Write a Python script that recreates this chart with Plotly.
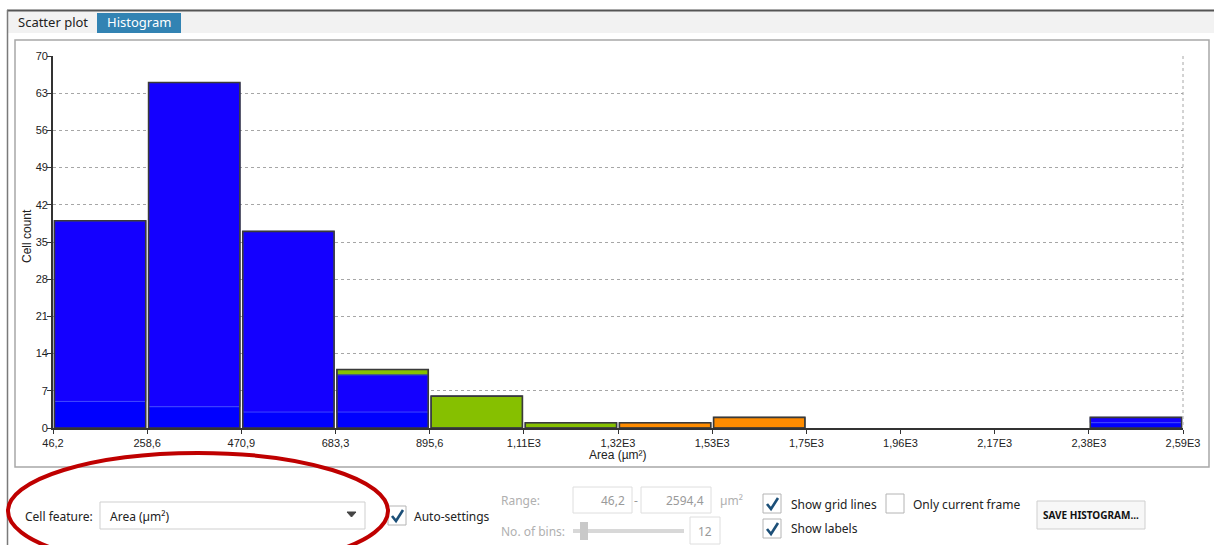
import plotly.graph_objects as go

# ---- histogram data: Area (µm²), 12 bins from 46.2 to 2594.4 ----
bin_edges = [46.2, 258.55, 470.9, 683.25, 895.6, 1107.95, 1320.3,
             1532.65, 1745.0, 1957.35, 2169.7, 2382.05, 2594.4]
edge_labels = ["46,2", "258,6", "470,9", "683,3", "895,6", "1,11E3", "1,32E3",
               "1,53E3", "1,75E3", "1,96E3", "2,17E3", "2,38E3", "2,59E3"]

# cell counts per bin, one list per stacked group
blue_lower = [5, 4, 3, 3, 0, 0, 0, 0, 0, 0, 0, 1]
blue_upper = [34, 61, 34, 7, 0, 0, 0, 0, 0, 0, 0, 1]
green_counts = [0, 0, 0, 1, 6, 1, 0, 0, 0, 0, 0, 0]
orange_counts = [0, 0, 0, 0, 0, 0, 1, 2, 0, 0, 0, 0]

y_ticks = [0, 7, 14, 21, 28, 35, 42, 49, 56, 63, 70]

# ---- geometry ----
W, H = 1214, 545
PL, PR, PT, PB = 53, 1183, 56, 428     # plot area in pixels


def fx(px):
    return (px - PL) / (PR - PL)


def fy(py):
    return (PB - py) / (PB - PT)


centers = [(a + b) / 2 for a, b in zip(bin_edges[:-1], bin_edges[1:])]
widths = [(b - a) * 0.97 for a, b in zip(bin_edges[:-1], bin_edges[1:])]

base_upper = blue_lower
base_green = [a + b for a, b in zip(blue_lower, blue_upper)]
base_orange = [a + b for a, b in zip(base_green, green_counts)]
totals = [a + b for a, b in zip(base_orange, orange_counts)]

fig = go.Figure()


def add_segment(values, base, fill, edge, edge_w):
    keep = [i for i, v in enumerate(values) if v > 0]
    fig.add_trace(go.Bar(
        x=[centers[i] for i in keep], y=[values[i] for i in keep],
        base=[base[i] for i in keep], width=[widths[i] for i in keep],
        marker=dict(color=fill, line=dict(color=edge, width=edge_w)),
        hoverinfo="skip",
    ))


add_segment(blue_lower, [0] * 12, "#0000ff", "#0000ff", 0)
add_segment(blue_upper, base_upper, "#1400ff", "#3c46ff", 1)
add_segment(green_counts, base_green, "#86c000", "#2a3a9a", 1)
add_segment(orange_counts, base_orange, "#ff8c00", "#3a3a3a", 1)

# dark outline around each whole (non-empty) bar
nz = [i for i, t in enumerate(totals) if t > 0]
fig.add_trace(go.Bar(
    x=[centers[i] for i in nz], y=[totals[i] for i in nz],
    base=[0] * len(nz), width=[widths[i] for i in nz],
    marker=dict(color="rgba(0,0,0,0)", line=dict(color="#3a3a3a", width=1.6)),
    hoverinfo="skip",
))

tick_font = dict(family="Liberation Sans, Arial, sans-serif", size=11, color="#222222")
ui_font = "Noto Sans, Open Sans, sans-serif"

fig.update_layout(
    width=W, height=H,
    margin=dict(l=PL, r=W - PR, t=PT, b=H - PB),
    paper_bgcolor="white", plot_bgcolor="white",
    barmode="overlay", showlegend=False,
    xaxis=dict(
        range=[bin_edges[0], bin_edges[-1]],
        tickvals=bin_edges, ticktext=edge_labels,
        ticks="outside", ticklen=4, tickcolor="#333", tickwidth=1.2,
        showline=True, linecolor="#333", linewidth=1.8,
        showgrid=False, zeroline=False, tickfont=tick_font,
    ),
    yaxis=dict(
        range=[0, 70], tickvals=y_ticks, ticktext=[str(v) for v in y_ticks],
        ticks="outside", ticklen=4, tickcolor="#333", tickwidth=1.2,
        ticklabelstandoff=-3,
        showline=True, linecolor="#333", linewidth=1.8,
        showgrid=True, gridcolor="#a6a6a6", griddash="dot", gridwidth=1,
        zeroline=False, tickfont=tick_font,
    ),
)

shapes = []
annotations = []


def rect(x0, y0, x1, y1, line="#c8c8c8", fill=None, lw=1, layer="above"):
    shapes.append(dict(
        type="rect", xref="paper", yref="paper",
        x0=fx(x0), x1=fx(x1), y0=fy(y1), y1=fy(y0),
        line=dict(color=line, width=lw), fillcolor=fill, layer=layer,
    ))


def line(x0, y0, x1, y1, color, lw=1, dash=None):
    shapes.append(dict(
        type="line", xref="paper", yref="paper",
        x0=fx(x0), x1=fx(x1), y0=fy(y0), y1=fy(y1),
        line=dict(color=color, width=lw, dash=dash),
    ))


def path(points, color, lw=1, fill=None, close=False):
    d = "M " + " L ".join(f"{fx(x):.5f},{fy(y):.5f}" for x, y in points)
    if close:
        d += " Z"
    shapes.append(dict(
        type="path", xref="paper", yref="paper", path=d,
        line=dict(color=color, width=lw), fillcolor=fill,
    ))


def text(x, y, s, size=12, color="#222222", anchor="left", family=ui_font, angle=0):
    annotations.append(dict(
        x=fx(x), y=fy(y), xref="paper", yref="paper", text=s,
        showarrow=False, xanchor=anchor, yanchor="middle", textangle=angle,
        font=dict(family=family, size=size, color=color),
    ))


def checkbox(x, y, checked):
    rect(x, y, x + 18, y + 19, line="#b4b4b4", fill="white")
    if checked:
        path([(x + 4, y + 10), (x + 8, y + 15), (x + 15, y + 4)], "#1c4f78", lw=2.6)


# window frame and tab strip
rect(8, 11, W + 2, 33, line="#f2f2f2", fill="#f2f2f2", lw=0, layer="below")
rect(97, 13, 181, 33, line="#3283b3", fill="#3283b3", lw=0)
line(7, 10.5, W, 10.5, "#555555", 2)
line(7.5, 10, 7.5, H, "#7a7a7a", 1.5)
text(53, 22.5, "Scatter plot", size=13, anchor="center")
text(139, 22.5, "Histogram", size=13, color="white", anchor="center")

# chart panel border
rect(15, 40, 1209, 467, line="#a8a8a8", lw=1.5, layer="below")

# right edge of the plot area (dotted, like the grid)
line(PR, PT, PR, PB, "#a6a6a6", 1, "dot")

# axis titles
text(27, 236, "Cell count", size=12, anchor="center",
     family="Liberation Sans, Arial, sans-serif", angle=-90)
text(618, 455, "Area (µm²)", size=12, anchor="center",
     family="Liberation Sans, Arial, sans-serif")

# controls below the chart
text(23, 516, "Cell feature:", size=12)
rect(100, 502, 365, 529, line="#cfcfcf", fill="white")
text(108, 516, "Area (µm²)", size=12)
path([(347, 512), (356, 512), (351.5, 517)], "#444444", lw=1, fill="#444444", close=True)

checkbox(388, 506, True)
text(412, 516, "Auto-settings", size=12)

text(499, 500, "Range:", size=12, color="#b0b0b0")
rect(573, 487, 632, 513, line="#dedede", fill="white")
text(627, 500, "46,2", size=12, color="#9a9a9a", anchor="right")
text(636.5, 500, "-", size=12, color="#9a9a9a", anchor="center")
rect(641, 487, 711, 513, line="#dedede", fill="white")
text(706, 500, "2594,4", size=12, color="#9a9a9a", anchor="right")
text(718, 500, "µm²", size=12, color="#b0b0b0")

text(499, 531, "No. of bins:", size=12, color="#b0b0b0")
rect(573, 529, 684, 533, line="#d8d8d8", fill="#d8d8d8", lw=0)
rect(580, 522, 588, 540, line="#c4c4c4", fill="#c9c9c9", lw=0)
rect(690, 517, 720, 544, line="#dedede", fill="white")
text(705, 531, "12", size=12, color="#9a9a9a", anchor="center")

checkbox(763, 494, True)
text(789, 504, "Show grid lines", size=12)
checkbox(886, 494, False)
text(911, 504, "Only current frame", size=12)
checkbox(763, 519, True)
text(789, 528, "Show labels", size=12)

rect(1037, 501, 1145, 529, line="#cfcfcf", fill="#f7f7f7")
text(1091, 515, "<b>SAVE HISTOGRAM...</b>", size=10, color="#111111", anchor="center")

# red highlight ellipse around the feature selector
shapes.append(dict(
    type="circle", xref="paper", yref="paper",
    x0=fx(8), x1=fx(388), y0=fy(569), y1=fy(453),
    line=dict(color="#bf0000", width=4),
))

fig.update_layout(shapes=shapes, annotations=annotations)
fig.write_html("out.html")
